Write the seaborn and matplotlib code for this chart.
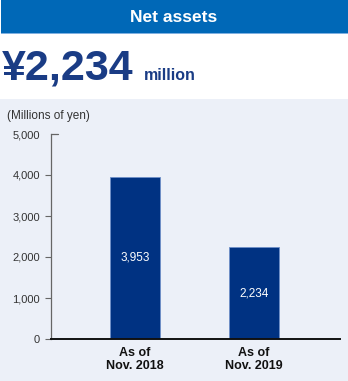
import matplotlib
matplotlib.use("Agg")
import matplotlib.pyplot as plt
import seaborn as sns
import pandas as pd
from matplotlib.patches import Rectangle

categories = ["As of\nNov. 2018", "As of\nNov. 2019"]
values = [3953, 2234]
value_labels = ["3,953", "2,234"]
yticks = [0, 1000, 2000, 3000, 4000, 5000]
ytick_labels = ["0", "1,000", "2,000", "3,000", "4,000", "5,000"]

sns.set_theme(style="white")
plt.rcParams['font.family'] = ['Liberation Sans', 'DejaVu Sans']

W, H = 348, 381
fig = plt.figure(figsize=(W / 100, H / 100), dpi=100)
fig.patch.set_facecolor("white")

# background panel
fig.patches.append(Rectangle((0, 0), 1, 1 - 99 / H, transform=fig.transFigure,
                             facecolor="#ecf0f8", edgecolor="none", zorder=-5))
# banner
fig.patches.append(Rectangle((1 / W, 1 - 33 / H), 1 - 1 / W, 33 / H, transform=fig.transFigure,
                             facecolor="#0068b7", edgecolor="none", zorder=-5))
fig.patches.append(Rectangle((1 / W, 1 - 34 / H), 1 - 1 / W, 1.2 / H, transform=fig.transFigure,
                             facecolor="#7fb0e0", edgecolor="none", zorder=-5))
fig.text(0.5, 1 - 17 / H, "Net assets", color="white", fontsize=12.5, fontweight="bold",
         ha="center", va="center")
fig.text(2 / W, 1 - 80 / H, "¥2,234", color="#1a3c85", fontsize=31, fontweight="bold",
         ha="left", va="baseline")
fig.text(144 / W, 1 - 80 / H, "million", color="#1a3c85", fontsize=11.5, fontweight="bold",
         ha="left", va="baseline")
fig.text(7 / W, 1 - 116 / H, "(Millions of yen)", color="#333333", fontsize=8.5,
         ha="left", va="center")

ax = fig.add_axes([51 / W, 1 - 339 / H, (340 - 51) / W, (339 - 134) / H])
ax.set_facecolor("none")
df = pd.DataFrame({"cat": categories, "val": values})
sns.barplot(data=df, x="cat", y="val", ax=ax, color="#003282", width=0.42,
            saturation=1, edgecolor="#6f8fc8", linewidth=0.6)
ax.set_xlim(-0.706, 1.723)
ax.set_ylim(0, 5000)
ax.set_yticks(yticks)
ax.set_yticklabels(ytick_labels, color="#333333", fontsize=8)
ax.set_xlabel("")
ax.set_ylabel("")
ax.tick_params(axis="y", length=4, width=0.8, color="#666666", pad=4, left=True)
ax.tick_params(axis="x", length=0, pad=6)
ax.yaxis.get_major_ticks()[-1].tick1line.set_visible(False)
for lab in ax.get_xticklabels():
    lab.set_fontweight("bold")
    lab.set_fontsize(9)
    lab.set_color("#111111")
    lab.set_linespacing(1.1)
for s in ["top", "right"]:
    ax.spines[s].set_visible(False)
ax.spines["left"].set_color("#666666")
ax.spines["left"].set_linewidth(0.9)
ax.spines["bottom"].set_color("#111111")
ax.spines["bottom"].set_linewidth(1.4)
ax.plot([0, 0.025], [5000, 5000], transform=ax.get_yaxis_transform(), color="#666666",
        lw=0.9, clip_on=False)

for i, (v, lab) in enumerate(zip(values, value_labels)):
    ax.text(i, v / 2, lab, color="white", fontsize=8.5, ha="center", va="center",
            family=["Liberation Sans Narrow", "Liberation Sans"])

fig.savefig("out.png", dpi=100, facecolor=fig.get_facecolor())
